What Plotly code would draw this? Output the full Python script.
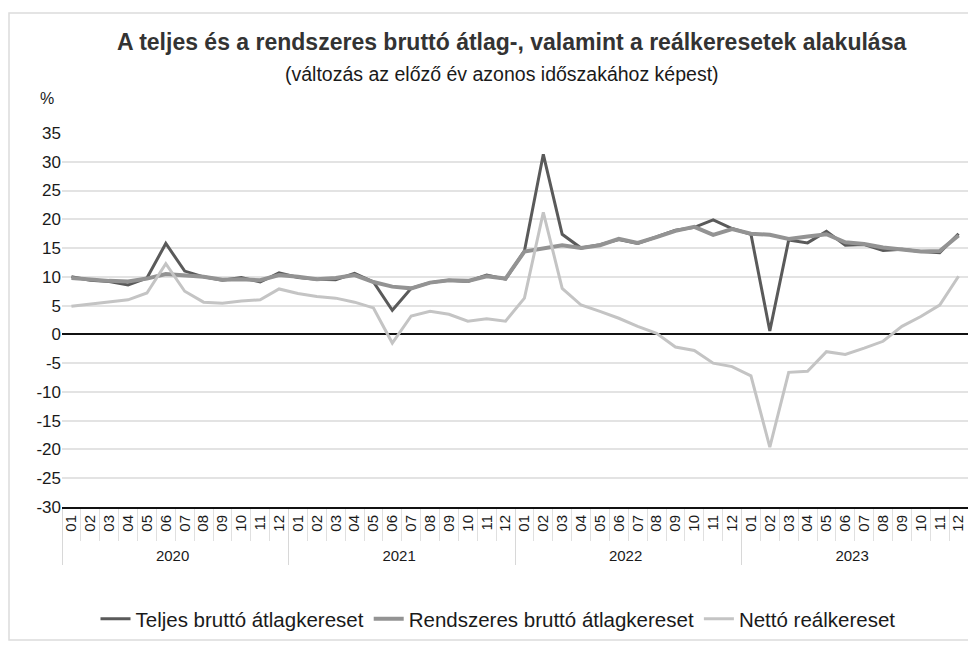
import plotly.graph_objects as go

years = ["2020", "2021", "2022", "2023"]
months = ["01", "02", "03", "04", "05", "06", "07", "08", "09", "10", "11", "12"]

teljes = [
    10.0, 9.4, 9.2, 8.6, 9.8, 15.8, 11.0, 10.0, 9.4, 9.9, 9.1, 10.7,
    9.9, 9.6, 9.5, 10.6, 9.1, 4.2, 8.0, 9.0, 9.4, 9.2, 10.3, 9.6,
    14.5, 31.3, 17.4, 15.0, 15.6, 16.5, 15.8, 16.9, 18.1, 18.6, 19.9, 18.4,
    17.4, 0.6, 16.4, 15.9, 17.9, 15.5, 15.6, 14.6, 14.8, 14.4, 14.2, 17.5,
]
rendszeres = [
    9.8, 9.5, 9.3, 9.2, 9.7, 10.5, 10.3, 10.0, 9.5, 9.6, 9.4, 10.3,
    10.0, 9.6, 9.8, 10.3, 9.1, 8.3, 8.0, 9.0, 9.4, 9.3, 10.1, 9.7,
    14.4, 14.9, 15.5, 15.0, 15.5, 16.6, 15.9, 16.9, 18.0, 18.7, 17.3, 18.3,
    17.5, 17.3, 16.6, 17.0, 17.4, 16.0, 15.7, 15.1, 14.7, 14.4, 14.5, 17.2,
]
netto = [
    4.9, 5.3, 5.6, 6.0, 7.2, 12.3, 7.5, 5.6, 5.4, 5.8, 6.0, 7.9,
    7.1, 6.6, 6.3, 5.6, 4.6, -1.5, 3.2, 4.0, 3.5, 2.3, 2.7, 2.3,
    6.3, 21.2, 8.0, 5.1, 4.0, 2.8, 1.4, 0.2, -2.2, -2.8, -5.0, -5.6,
    -7.2, -19.6, -6.6, -6.4, -3.0, -3.5, -2.4, -1.2, 1.4, 3.1, 5.1, 10.1,
]

y_ticks = [35, 30, 25, 20, 15, 10, 5, 0, -5, -10, -15, -20, -25, -30]

x_year = [y for y in years for _ in months]
x_month = [m for _ in years for m in months]
x = [x_year, x_month]

FONT = "Liberation Sans, Arial, sans-serif"

fig = go.Figure()
fig.add_trace(go.Scatter(x=x, y=teljes, mode="lines", name="Teljes bruttó átlagkereset",
                         legendrank=1, line=dict(color="#5a5a5a", width=3)))
fig.add_trace(go.Scatter(x=x, y=rendszeres, mode="lines", name="Rendszeres bruttó átlagkereset",
                         legendrank=2, line=dict(color="#939393", width=4)))
fig.add_trace(go.Scatter(x=x, y=netto, mode="lines", name="Nettó reálkereset",
                         legendrank=3, line=dict(color="#c4c4c4", width=3)))

# the page body adds an 8 px margin, so the figure is laid out 8 px smaller / shifted
OFF = 8
W, H = 976 - OFF, 657 - OFF
L, R, T, B = 62 - OFF, 8, 133 - OFF, 150
pw, ph = W - L - R, H - T - B

def px(xp):
    return (xp - OFF - L) / pw

def py(yp):
    return (H - B - (yp - OFF)) / ph

fig.update_layout(
    width=W, height=H,
    margin=dict(l=L, r=R, t=T, b=B),
    paper_bgcolor="white", plot_bgcolor="white",
    font=dict(family=FONT, color="#1a1a1a"),
    showlegend=True,
    legend=dict(orientation="h", x=px(498), xanchor="center", y=py(619), yanchor="middle",
                font=dict(size=20.5, family=FONT, color="#1a1a1a"),
                itemwidth=30, tracegroupgap=0),
    annotations=[
        dict(text="<b>A teljes és a rendszeres bruttó átlag-, valamint a reálkeresetek alakulása</b>",
             x=px(511), y=py(42), xref="paper", yref="paper", showarrow=False,
             xanchor="center", yanchor="middle", font=dict(size=23, family=FONT, color="#333333")),
        dict(text="(változás az előző év azonos időszakához képest)",
             x=px(502), y=py(74), xref="paper", yref="paper", showarrow=False,
             xanchor="center", yanchor="middle", font=dict(size=19.5, family=FONT, color="#1a1a1a")),
        dict(text="%", x=px(38), y=py(98), xref="paper", yref="paper", showarrow=False,
             xanchor="left", yanchor="middle", font=dict(size=16, family=FONT, color="#1a1a1a")),
    ],
    shapes=[
        dict(type="rect", xref="paper", yref="paper", x0=px(9), x1=px(971), y0=py(640), y1=py(13),
             line=dict(color="#dcdcdc", width=1.5), layer="below"),
    ],
)

fig.update_yaxes(
    range=[-30, 35], tickvals=y_ticks, ticktext=[str(v) for v in y_ticks],
    showgrid=True, gridcolor="#e3e3e3", gridwidth=1.5,
    zeroline=True, zerolinecolor="#111111", zerolinewidth=2,
    showline=False, ticks="", tickfont=dict(size=17, family=FONT, color="#1a1a1a"),
)
fig.update_xaxes(
    type="multicategory", range=[-0.5, 47.5],
    showline=True, linecolor="#111111", linewidth=2,
    showgrid=False, ticks="outside", ticklen=32, tickcolor="#e0e0e0", tickwidth=1,
    tickangle=-90, tickfont=dict(size=15, family=FONT, color="#1a1a1a"),
    showdividers=True, dividercolor="#d8d8d8", dividerwidth=1,
)

fig.write_html("out.html")
